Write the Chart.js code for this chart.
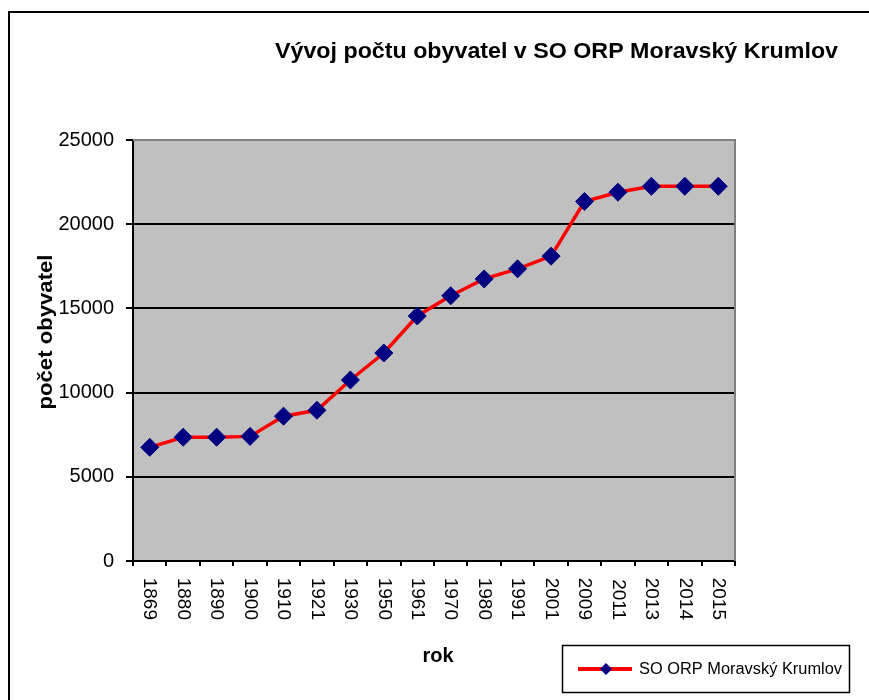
<!DOCTYPE html>
<html>
<head>
<meta charset="utf-8">
<script src="https://cdn.jsdelivr.net/npm/chart.js@4"></script>
<style>
  html, body { margin: 0; padding: 0; background: #fff; }
  canvas { display: block; }
</style>
</head>
<body>
<canvas id="chart" width="869" height="700"></canvas>
<script>
const years = ['1869', '1880', '1890', '1900', '1910', '1921', '1930', '1950', '1961',
               '1970', '1980', '1991', '2001', '2009', '2011', '2013', '2014', '2015'];
const population = [6750, 7350, 7350, 7400, 8600, 8950, 10750, 12350, 14550,
                    15750, 16750, 17350, 18100, 21350, 21900, 22250, 22250, 22250];
const seriesName = 'SO ORP Moravský Krumlov';
const chartTitle = 'Vývoj počtu obyvatel v SO ORP Moravský Krumlov';
const yTitle = 'počet obyvatel';
const xTitle = 'rok';

const FONT = '"Liberation Sans", Arial, sans-serif';

// draws text so that it fits an exact width (the original text is squeezed a bit)
function stretchText(ctx, text, x, y, width, align) {
  const w = ctx.measureText(text).width;
  const sx = width / w;
  ctx.save();
  ctx.translate(x, y);
  ctx.scale(sx, 1);
  ctx.textAlign = align || 'left';
  ctx.fillText(text, 0, 0);
  ctx.restore();
}

const excelLook = {
  id: 'excelLook',
  beforeDraw(chart) {
    const {ctx, chartArea: a} = chart;
    ctx.save();
    // outer chart frame
    ctx.strokeStyle = '#000';
    ctx.lineWidth = 2;
    ctx.strokeRect(9, 12, 900, 720);
    // plot background
    ctx.fillStyle = '#c0c0c0';
    ctx.fillRect(a.left, a.top, a.right - a.left, a.bottom - a.top);
    ctx.restore();
  },
  beforeDatasetsDraw(chart) {
    const {ctx, chartArea: a} = chart;
    ctx.save();
    ctx.strokeStyle = '#808080';
    ctx.lineWidth = 2;
    ctx.beginPath();
    ctx.moveTo(a.left, a.top);
    ctx.lineTo(a.right, a.top);
    ctx.lineTo(a.right, a.bottom);
    ctx.stroke();
    ctx.restore();
  },
  afterDraw(chart) {
    const {ctx} = chart;
    ctx.save();
    ctx.fillStyle = '#000';
    ctx.textBaseline = 'alphabetic';

    // title
    ctx.font = 'bold 22px ' + FONT;
    stretchText(ctx, chartTitle, 275, 58, 563, 'left');

    // y axis title
    ctx.font = 'bold 20px ' + FONT;
    ctx.save();
    ctx.translate(46, 332);
    ctx.rotate(-Math.PI / 2);
    ctx.textBaseline = 'middle';
    stretchText(ctx, yTitle, 0, 0, 155, 'center');
    ctx.restore();

    // x axis title
    ctx.textBaseline = 'middle';
    ctx.textAlign = 'center';
    ctx.fillText(xTitle, 438, 656);

    // legend
    const ds = chart.data.datasets[0];
    ctx.fillStyle = '#fff';
    ctx.fillRect(562, 645, 287, 47);
    ctx.strokeStyle = '#000';
    ctx.lineWidth = 1.5;
    ctx.strokeRect(562.5, 645.5, 287, 47);
    ctx.strokeStyle = ds.borderColor;
    ctx.lineWidth = 4;
    ctx.beginPath();
    ctx.moveTo(578, 669);
    ctx.lineTo(632, 669);
    ctx.stroke();
    ctx.fillStyle = ds.pointBackgroundColor;
    ctx.beginPath();
    ctx.moveTo(606, 663);
    ctx.lineTo(612, 669);
    ctx.lineTo(606, 675);
    ctx.lineTo(600, 669);
    ctx.closePath();
    ctx.fill();
    ctx.fillStyle = '#000';
    ctx.font = '16px ' + FONT;
    ctx.textBaseline = 'middle';
    stretchText(ctx, ds.label, 639, 670, 203, 'left');
    ctx.restore();
  }
};

new Chart(document.getElementById('chart'), {
  type: 'line',
  data: {
    labels: years,
    datasets: [{
      label: seriesName,
      data: population,
      borderColor: '#ff0000',
      borderWidth: 3.5,
      tension: 0,
      pointStyle: 'rectRot',
      pointRadius: 9,
      pointHoverRadius: 9,
      pointBackgroundColor: '#000080',
      pointBorderColor: '#000080',
      pointBorderWidth: 1
    }]
  },
  options: {
    responsive: false,
    animation: false,
    events: [],
    layout: { padding: { left: 0, top: 140, right: 134, bottom: 0 } },
    plugins: {
      legend: { display: false },
      title: { display: false },
      tooltip: { enabled: false }
    },
    scales: {
      x: {
        offset: true,
        grid: {
          offset: true,
          drawOnChartArea: false,
          color: '#000',
          lineWidth: 2,
          tickLength: 5
        },
        border: { color: '#000', width: 2 },
        ticks: {
          autoSkip: false,
          minRotation: -90,
          maxRotation: -90,
          padding: 54,
          color: '#000',
          font: { family: FONT, size: 19 }
        },
        afterFit(scale) { scale.height = 139; }
      },
      y: {
        min: 0,
        max: 25000,
        ticks: {
          stepSize: 5000,
          padding: 12,
          color: '#000',
          font: { family: FONT, size: 20 },
          callback: (v) => String(v)
        },
        grid: {
          color: (c) => (c.tick && c.tick.value === 25000 ? '#808080' : '#000'),
          tickColor: '#000',
          lineWidth: 2,
          tickLength: 7
        },
        border: { color: '#000', width: 2 },
        afterFit(scale) { scale.width = 133; }
      }
    }
  },
  plugins: [excelLook]
});
</script>
</body>
</html>
